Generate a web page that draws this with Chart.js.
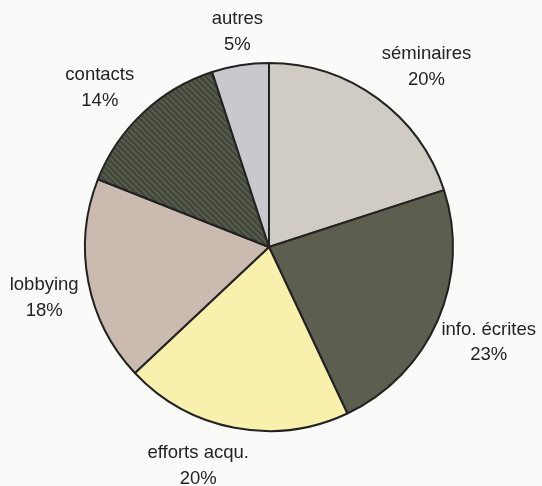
<!DOCTYPE html>
<html>
<head>
<meta charset="utf-8">
<script src="https://cdn.jsdelivr.net/npm/chart.js@4.4.1/dist/chart.umd.min.js"></script>
<style>
  html, body { margin: 0; padding: 0; background: #fafaf8; }
  #wrap { width: 542px; height: 486px; }
</style>
</head>
<body>
<div id="wrap"><canvas id="pieChart"></canvas></div>
<script>
const labels = ['séminaires', 'info. écrites', 'efforts acqu.', 'lobbying', 'contacts', 'autres'];
const values = [20, 23, 20, 18, 14, 5];
const colors = ['#d0ccc3', '#5c5f4f', '#f9f0ae', '#cbbab0', '#474c40', '#c9c8cd'];

// small hand nudges so the labels sit where the original put them
const labelNudge = [[20, 9], [5, 2], [-27, -11], [5, 7], [-9, 11], [5, 16]];

// diagonal stripes for the "contacts" slice
const stripes = (base, line) => {
  const c = document.createElement('canvas');
  c.width = 6; c.height = 6;
  const g = c.getContext('2d');
  g.fillStyle = base;
  g.fillRect(0, 0, 6, 6);
  g.strokeStyle = line;
  g.lineWidth = 1.6;
  g.beginPath();
  g.moveTo(0, 0); g.lineTo(6, 6);
  g.moveTo(-3, 3); g.lineTo(3, 9);
  g.moveTo(3, -3); g.lineTo(9, 3);
  g.stroke();
  return g.createPattern(c, 'repeat');
};

// labels outside each slice, name + percent
const outsideLabels = {
  id: 'outsideLabels',
  afterDatasetsDraw(chart) {
    const ctx = chart.ctx;
    const meta = chart.getDatasetMeta(0);
    ctx.save();
    ctx.font = '18.5px "Liberation Sans", Arial, sans-serif';
    ctx.fillStyle = '#232323';
    ctx.textAlign = 'center';
    ctx.textBaseline = 'middle';
    meta.data.forEach((arc, i) => {
      const mid = (arc.startAngle + arc.endAngle) / 2;
      const r = arc.outerRadius + 50;
      const x = arc.x + Math.cos(mid) * r + labelNudge[i][0];
      const y = arc.y + Math.sin(mid) * r + labelNudge[i][1];
      ctx.fillText(labels[i], x, y - 12.5);
      ctx.fillText(values[i] + '%', x, y + 13);
    });
    ctx.restore();
  }
};

const pieChart = document.getElementById('pieChart');
const bg = colors.slice();
bg[4] = stripes('#42473b', '#5a5f50');

const data = {
  labels: labels,
  datasets: [{
    data: values,
    backgroundColor: bg,
    borderColor: '#222',
    borderWidth: 2
  }]
};

const options = {
  responsive: true,
  maintainAspectRatio: false,
  animation: false,
  layout: {
    padding: { left: 84, right: 88, top: 62, bottom: 54 }
  },
  plugins: {
    legend: { display: false },
    tooltip: { enabled: false }
  }
};

new Chart(pieChart, {
  type: 'pie',
  data,
  options,
  plugins: [outsideLabels]
});
</script>
</body>
</html>
